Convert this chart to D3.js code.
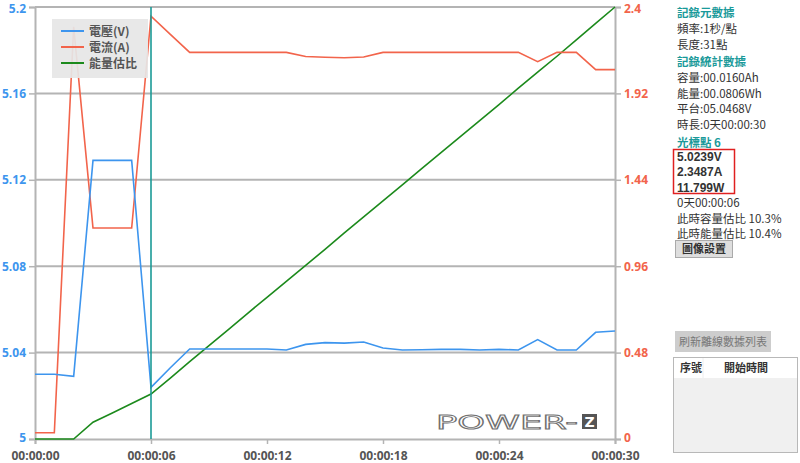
<!DOCTYPE html>
<html><head><meta charset="utf-8">
<script src="https://cdn.jsdelivr.net/npm/d3@7"></script>
<style>
body{margin:0;background:#fff;}
svg{display:block;font-family:"Noto Sans CJK TC","Noto Sans",sans-serif;}
</style></head>
<body><svg id="c" width="800" height="463"></svg>
<script>
// ---- data ----
const seconds = d3.range(0, 31);
const voltage = [5.030,5.030,5.029,5.129,5.129,5.129,5.0239,5.033,5.0417,5.0417,5.0417,5.0417,5.0417,5.0412,5.0438,5.0446,5.0444,5.0449,5.0421,5.0412,5.0413,5.0415,5.0415,5.0412,5.0415,5.0412,5.0460,5.0412,5.0412,5.0494,5.0500];
const current = [0.035,0.035,2.29,1.172,1.172,1.172,2.3487,2.248,2.148,2.148,2.148,2.148,2.148,2.148,2.125,2.121,2.118,2.122,2.148,2.148,2.148,2.148,2.148,2.148,2.148,2.148,2.096,2.148,2.148,2.052,2.052];
const energyPct = [0,0,0,3.9,6.0,8.2,10.4,14.1,17.9,21.6,25.3,29.1,32.8,36.5,40.2,43.9,47.7,51.4,55.1,58.8,62.6,66.3,70.0,73.7,77.4,81.2,84.9,88.6,92.4,96.2,100];
const vTicks = [5, 5.04, 5.08, 5.12, 5.16, 5.2];
const aTicks = [0, 0.48, 0.96, 1.44, 1.92, 2.4];
const xTicks = [0, 6, 12, 18, 24, 30];
const legendLabels = ["電壓(V)", "電流(A)", "能量估比"];
const cursorIndex = 6;
const panelMeta = ["頻率:1秒/點", "長度:31點"];
const panelStats = ["容量:00.0160Ah", "能量:00.0806Wh", "平台:05.0468V", "時長:0天00:00:30"];
const cursorValues = ["5.0239V", "2.3487A", "11.799W"];
const cursorInfo = ["0天00:00:06", "此時容量估比 10.3%", "此時能量估比 10.4%"];
const tableHeaders = ["序號", "開始時間"];

// ---- styles ----
const C_V = "#3d95ee", C_A = "#f2644b", C_E = "#1c8a1c", C_CUR = "#1b9a96", C_GRID = "#b4b4b4", C_TEAL = "#1a9a9a";

const svg = d3.select("#c");
const L = 35, R = 615, T = 7, B = 439;
const x = d3.scaleLinear().domain([0, 30]).range([L, R]);
const yV = d3.scaleLinear().domain([5, 5.2]).range([B, T]);
const yA = d3.scaleLinear().domain([0, 2.4]).range([B, T]);
const yE = d3.scaleLinear().domain([0, 100]).range([B, T]);

// grid
svg.append("g").selectAll("line").data(vTicks.slice(1)).join("line")
  .attr("x1", L).attr("x2", R).attr("y1", d => yV(d)).attr("y2", d => yV(d))
  .attr("stroke", C_GRID).attr("stroke-width", 2);

// left axis
const gl = svg.append("g").attr("transform", `translate(${L},0)`)
  .call(d3.axisLeft(yV).tickValues(vTicks).tickFormat(d => String(+d.toFixed(2))).tickSize(6).tickPadding(3));
gl.select(".domain").attr("stroke", C_GRID).attr("stroke-width", 2);
gl.selectAll(".tick line").attr("stroke", C_GRID).attr("stroke-width", 1.5);
gl.selectAll("text").attr("fill", C_V).attr("font-size", 12).attr("font-weight", "bold").attr("font-family", "'Open Sans',sans-serif");
gl.selectAll(".tick").filter(d => d === 5.2).select("text").attr("dy", "0.42em");
gl.selectAll(".tick").filter(d => d === 5).select("text").attr("dy", "0.2em");

// right axis
const gr = svg.append("g").attr("transform", `translate(${R},0)`)
  .call(d3.axisRight(yA).tickValues(aTicks).tickFormat(d => String(+d.toFixed(2))).tickSize(6).tickPadding(3));
gr.select(".domain").attr("stroke", C_GRID).attr("stroke-width", 2);
gr.selectAll(".tick line").attr("stroke", C_GRID).attr("stroke-width", 1.5);
gr.selectAll("text").attr("fill", C_A).attr("font-size", 12).attr("font-weight", "bold").attr("font-family", "'Open Sans',sans-serif");
gr.selectAll(".tick").filter(d => d === 2.4).select("text").attr("dy", "0.42em");
gr.selectAll(".tick").filter(d => d === 0).select("text").attr("dy", "0.2em");

// bottom axis
const fmt = s => "00:00:" + String(s).padStart(2, "0");
const gb = svg.append("g").attr("transform", `translate(0,${B})`)
  .call(d3.axisBottom(x).tickValues(xTicks).tickFormat(fmt).tickSize(5).tickPadding(7));
gb.select(".domain").attr("stroke", C_GRID).attr("stroke-width", 2);
gb.selectAll(".tick line").attr("stroke", C_GRID).attr("stroke-width", 1.5);
gb.selectAll("text").attr("fill", "#555").attr("font-size", 12).attr("font-weight", "bold").attr("font-family", "'Open Sans',sans-serif");

// logo
const logo = svg.append("g");
logo.append("text").attr("x", 436).attr("y", 429).text("POWER-")
  .attr("font-family", "'DejaVu Sans',sans-serif").attr("font-size", 20).attr("font-weight", "normal")
  .attr("textLength", 142).attr("lengthAdjust", "spacingAndGlyphs")
  .attr("fill", "none").attr("stroke", "#707070").attr("stroke-width", 0.9);
logo.append("rect").attr("x", 582).attr("y", 414).attr("width", 15).attr("height", 15).attr("fill", "#555");
logo.append("text").attr("x", 589.5).attr("y", 427).attr("text-anchor", "middle").text("Z")
  .attr("font-family", "'DejaVu Sans',sans-serif").attr("font-size", 14).attr("font-weight", "bold").attr("fill", "#fff");

// lines
const mk = (ys, data) => d3.line().x((d, i) => x(seconds[i])).y(d => ys(d))(data);
svg.append("path").attr("d", mk(yE, energyPct)).attr("fill", "none").attr("stroke", C_E).attr("stroke-width", 1.6);
svg.append("path").attr("d", mk(yA, current)).attr("fill", "none").attr("stroke", C_A).attr("stroke-width", 1.6);
svg.append("path").attr("d", mk(yV, voltage)).attr("fill", "none").attr("stroke", C_V).attr("stroke-width", 1.6);

// cursor
svg.append("line").attr("x1", x(cursorIndex)).attr("x2", x(cursorIndex)).attr("y1", T).attr("y2", B)
  .attr("stroke", C_CUR).attr("stroke-width", 1.6);

// legend
const lg = svg.append("g");
lg.append("rect").attr("x", 52).attr("y", 19).attr("width", 96).attr("height", 59).attr("fill", "#e6e6e6").attr("opacity", 0.92);
[C_V, C_A, C_E].forEach((c, i) => {
  const yy = 31 + i * 16;
  lg.append("line").attr("x1", 61).attr("x2", 84).attr("y1", yy).attr("y2", yy).attr("stroke", c).attr("stroke-width", 2);
  lg.append("text").attr("x", 89).attr("y", yy + 4.5).text(legendLabels[i])
    .attr("font-size", 12).attr("font-weight", "bold").attr("fill", "#555");
});

// right panel
const P = svg.append("g").attr("font-size", 11.5);
const px = 677;
const addT = (t, y, col, bold, size) => P.append("text").attr("x", px).attr("y", y).text(t)
  .attr("fill", col).attr("font-weight", bold ? "bold" : "normal").attr("font-size", size || 11.5);
addT("記錄元數據", 17, C_TEAL, true);
panelMeta.forEach((t, i) => addT(t, 33 + i * 15.5, "#333", false));
addT("記錄統計數據", 66, C_TEAL, true);
panelStats.forEach((t, i) => addT(t, 82 + i * 15.7, "#333", false));
addT("光標點 " + cursorIndex, 147, C_TEAL, true);
P.append("rect").attr("x", 673.5).attr("y", 149.5).attr("width", 61).attr("height", 44).attr("fill", "none").attr("stroke", "#e02020").attr("stroke-width", 1.5);
cursorValues.forEach((t, i) => addT(t, 160.5 + i * 15.6, "#333", true, 12).attr("font-family", "'Liberation Sans',sans-serif"));
cursorInfo.forEach((t, i) => addT(t, 207 + i * 15.5, "#333", false));
P.append("rect").attr("x", 675.5).attr("y", 240.5).attr("width", 57).attr("height", 17).attr("fill", "#dedede").attr("stroke", "#aaa");
P.append("text").attr("x", 704).attr("y", 253).attr("text-anchor", "middle").text("圖像設置").attr("fill", "#333").attr("font-size", 11).attr("font-weight", "bold");

P.append("rect").attr("x", 675).attr("y", 331).attr("width", 96).attr("height", 21).attr("fill", "#cdcdcd");
P.append("text").attr("x", 723).attr("y", 345.5).attr("text-anchor", "middle").text("刷新離線數據列表").attr("fill", "#777").attr("font-size", 11);
P.append("rect").attr("x", 673.5).attr("y", 357.5).attr("width", 124).attr("height", 95).attr("fill", "#f0f0f0").attr("stroke", "#b8b8b8");
P.append("rect").attr("x", 674).attr("y", 358).attr("width", 123).attr("height", 20).attr("fill", "#fff");
P.append("line").attr("x1", 703).attr("x2", 703).attr("y1", 358).attr("y2", 378).attr("stroke", "#eee");
P.append("text").attr("x", 680).attr("y", 372).text(tableHeaders[0]).attr("fill", "#333").attr("font-size", 11).attr("font-weight", "bold");
P.append("text").attr("x", 746).attr("y", 372).attr("text-anchor", "middle").text(tableHeaders[1]).attr("fill", "#333").attr("font-size", 11).attr("font-weight", "bold");
</script></body></html>
